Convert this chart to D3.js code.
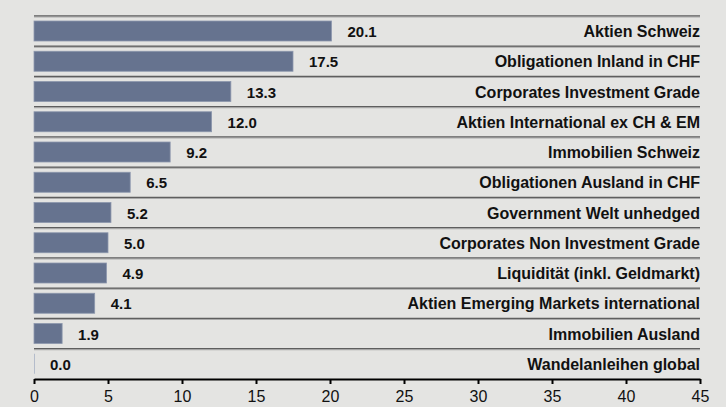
<!DOCTYPE html>
<html>
<head>
<meta charset="utf-8">
<script src="https://cdn.jsdelivr.net/npm/d3@7"></script>
<style>
  body { margin: 0; background: #e4e4e2; }
  svg { display: block; }
  text { font-family: "Liberation Sans", Arial, sans-serif; }
</style>
</head>
<body>
<div id="chart"></div>
<script>
"use strict";

// categories, top to bottom
var categories = [
  "Aktien Schweiz",
  "Obligationen Inland in CHF",
  "Corporates Investment Grade",
  "Aktien International ex CH & EM",
  "Immobilien Schweiz",
  "Obligationen Ausland in CHF",
  "Government Welt unhedged",
  "Corporates Non Investment Grade",
  "Liquidität (inkl. Geldmarkt)",
  "Aktien Emerging Markets international",
  "Immobilien Ausland",
  "Wandelanleihen global"
];
var values = [20.1, 17.5, 13.3, 12.0, 9.2, 6.5, 5.2, 5.0, 4.9, 4.1, 1.9, 0.0];
var ticks = [0, 5, 10, 15, 20, 25, 30, 35, 40, 45];

var visualize = function() {
  var width = 726, height = 407;
  var plotLeft = 34, plotRight = 700, plotTop = 15.5, plotBottom = 378.5;

  var svg = d3.select("#chart")
              .append("svg")
              .attr("width", width)
              .attr("height", height);

  svg.append("rect")
     .attr("width", width)
     .attr("height", height)
     .attr("fill", "#e4e4e2");

  // Scales
  var x = d3.scaleLinear()
            .domain([0, 45])
            .range([plotLeft, plotRight]);

  var y = d3.scaleBand()
            .domain(categories)
            .range([plotTop, plotBottom]);

  var data = categories.map(function(c, i) { return { name: c, value: values[i] }; });

  var rows = svg.selectAll(".row")
     .data(data)
     .enter()
     .append("g")
     .attr("class", "row");

  // row separators
  rows.append("line")
     .attr("x1", plotLeft)
     .attr("x2", plotRight)
     .attr("y1", function(d) { return y(d.name) + 0.5; })
     .attr("y2", function(d) { return y(d.name) + 0.5; })
     .attr("stroke", "#5e5e5e")
     .attr("stroke-width", 1.3);

  rows.append("line")
     .attr("x1", plotLeft)
     .attr("x2", plotRight)
     .attr("y1", function(d) { return y(d.name) + 1.5; })
     .attr("y2", function(d) { return y(d.name) + 1.5; })
     .attr("stroke", "#a9a9a9")
     .attr("stroke-width", 1);

  // bars
  rows.append("rect")
     .attr("x", x(0))
     .attr("y", function(d) { return y(d.name) + 5.5; })
     .attr("width", function(d) { return Math.max(x(d.value) - x(0), 1); })
     .attr("height", 20)
     .attr("fill", function(d) { return d.value > 0 ? "#66738f" : "#b4bccb"; })
     .attr("stroke", function(d) { return d.value > 0 ? "#8d97ad" : "none"; })
     .attr("stroke-width", 0.8);

  // value labels
  rows.append("text")
     .attr("x", function(d) { return x(d.value) + 16; })
     .attr("y", function(d) { return y(d.name) + y.bandwidth() / 2; })
     .attr("dy", 6.5)
     .attr("font-size", "15px")
     .attr("font-weight", "bold")
     .attr("fill", "#111")
     .text(function(d) { return d.value.toFixed(1); });

  // category labels
  rows.append("text")
     .attr("x", plotRight)
     .attr("y", function(d) { return y(d.name) + y.bandwidth() / 2; })
     .attr("dy", 6.5)
     .attr("text-anchor", "end")
     .attr("font-size", "16px")
     .attr("font-weight", "bold")
     .attr("fill", "#111")
     .text(function(d) { return d.name; });

  // axis
  var xAxis = d3.axisBottom(x)
                .tickValues(ticks)
                .tickSize(5)
                .tickSizeOuter(0);

  var axisG = svg.append("g")
     .attr("transform", "translate(0," + (plotBottom + 0.5) + ")")
     .call(xAxis);

  axisG.select(".domain")
     .attr("stroke", "#000")
     .attr("stroke-width", 2);
  axisG.selectAll(".tick line")
     .attr("stroke", "#000")
     .attr("stroke-width", 2);
  axisG.selectAll(".tick text")
     .attr("font-family", "'Liberation Sans', Arial, sans-serif")
     .attr("font-size", "16px")
     .attr("fill", "#111")
     .attr("y", 12);
};

visualize();
</script>
</body>
</html>
